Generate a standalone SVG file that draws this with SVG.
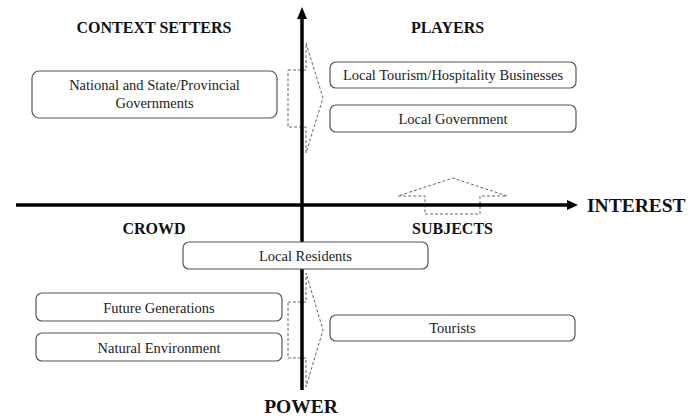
<svg xmlns="http://www.w3.org/2000/svg" width="698" height="419" viewBox="0 0 698 419">
<defs>
<style>
.box{fill:#fff;stroke:#555;stroke-width:1.2}
.t{font-family:"Liberation Serif","Times New Roman",serif;font-size:14.5px;fill:#222;text-anchor:middle}
.h{font-family:"Liberation Serif","Times New Roman",serif;font-weight:bold;font-size:16px;fill:#111;text-anchor:middle}
.ax{font-family:"Liberation Serif","Times New Roman",serif;font-weight:bold;font-size:19.5px;fill:#111}
.dash{fill:none;stroke:#666;stroke-width:1;stroke-dasharray:3,2}
.axis{stroke:#000;stroke-width:3.5;fill:none}
</style>
</defs>
<rect width="698" height="419" fill="#fff"/>
<g id="connectors">
<polygon class="dash" points="288,70 306,70 306,43 323,98 306,153 306,127 288,127"/>
<polygon class="dash" points="288,302 306,302 306,273 323,330 306,387 306,358 288,358"/>
<polygon class="dash" points="425,214 480,214 480,196 507,196 453,178 398,196 425,196"/>
<line class="axis" x1="302" y1="390" x2="302" y2="17"/>
<polygon points="302,7 297,19 307,19" fill="#000"/>
<line class="axis" x1="16" y1="205" x2="569" y2="205"/>
<polygon points="578,205 567,200 567,210" fill="#000"/>
</g>
<g id="labels">
<text class="h" x="154" y="33">CONTEXT SETTERS</text>
<text class="h" x="447.5" y="33">PLAYERS</text>
<text class="h" x="154" y="234">CROWD</text>
<text class="h" x="452.5" y="234">SUBJECTS</text>
<text class="ax" x="587" y="212">INTEREST</text>
<text class="ax" x="301" y="413" text-anchor="middle">POWER</text>
</g>
<g id="national">
<rect class="box" x="32" y="71" width="245" height="47" rx="7"/>
<text class="t" x="154.5" y="90">National and State/Provincial</text>
<text class="t" x="154.5" y="108">Governments</text>
</g>
<g id="tourism">
<rect class="box" x="330" y="62" width="246" height="26" rx="6"/>
<text class="t" x="453" y="80">Local Tourism/Hospitality Businesses</text>
</g>
<g id="localgov">
<rect class="box" x="330" y="105" width="246" height="27" rx="6"/>
<text class="t" x="453" y="124">Local Government</text>
</g>
<g id="residents">
<rect class="box" x="183" y="242" width="245" height="27" rx="6"/>
<text class="t" x="305.5" y="261">Local Residents</text>
</g>
<g id="future">
<rect class="box" x="36" y="293" width="246" height="28" rx="6"/>
<text class="t" x="159" y="313">Future Generations</text>
</g>
<g id="natural">
<rect class="box" x="36" y="333" width="246" height="28" rx="6"/>
<text class="t" x="159" y="353">Natural Environment</text>
</g>
<g id="tourists">
<rect class="box" x="330" y="315" width="245" height="26" rx="6"/>
<text class="t" x="452.5" y="333">Tourists</text>
</g>
</svg>
